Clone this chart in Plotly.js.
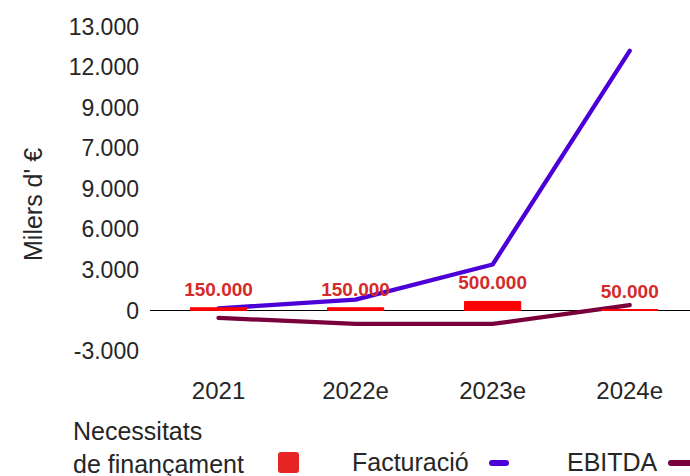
<!DOCTYPE html>
<html>
<head>
<meta charset="utf-8">
<script src="https://cdn.plot.ly/plotly-3.0.1.min.js"></script>
<style>
  html, body { margin: 0; padding: 0; background: #ffffff; }
  #chart { width: 690px; height: 476px; }
  .scatterlayer path.js-line { stroke-linecap: round; stroke-linejoin: round; }
</style>
</head>
<body>
<div id="chart"></div>
<script>
// Years on the horizontal axis
const years = ['2021', '2022e', '2023e', '2024e'];

// Financing needs, in euros
const financingNeeds = [150000, 150000, 500000, 50000];

// Revenue and EBITDA, in thousands of euros
const revenue = [150, 800, 3400, 19200];
const ebitda = [-550, -1000, -1000, 400];

// Vertical axis ticks
const yTickVals = [-3000, 0, 3000, 6000, 9000, 12000, 15000, 18000, 21000];
const yTickText = ['-3.000', '0', '3.000', '6.000', '9.000', '7.000', '9.000', '12.000', '13.000'];

// Series names and axis title
const seriesNames = ['Necessitats<br>de finançament', 'Facturació', 'EBITDA'];
const yTitle = "Milers d' €";

const colors = {
  bar: '#ff0000',
  barText: '#d42a2a',
  barKey: '#e62424',
  revenue: '#4b00d7',
  ebitda: '#7a003c',
  text: '#262626'
};

const FONT = '"Liberation Sans", Arial, Helvetica, sans-serif';

// Plot area in pixels
const M = { l: 150, r: 0, t: 13, b: 102 };
const W = 690 - M.l - M.r;
const H = 476 - M.t - M.b;
const Y1 = [-4700, 22000];
const Y2_FACTOR = 750;

// pixel -> paper helpers for the hand-built legend
const px = x => (x - M.l) / W;
const py = y => (M.t + H - y) / H;

function roundRect(x0, y0, x1, y1, r) {
  const p = (x, y) => px(x) + ',' + py(y);
  return 'M' + p(x0 + r, y0) + ' L' + p(x1 - r, y0) + ' Q' + p(x1, y0) + ' ' + p(x1, y0 + r) +
         ' L' + p(x1, y1 - r) + ' Q' + p(x1, y1) + ' ' + p(x1 - r, y1) +
         ' L' + p(x0 + r, y1) + ' Q' + p(x0, y1) + ' ' + p(x0, y1 - r) +
         ' L' + p(x0, y0 + r) + ' Q' + p(x0, y0) + ' ' + p(x0 + r, y0) + ' Z';
}

const traces = [
  {
    type: 'bar',
    name: 'Necessitats de finançament',
    x: years,
    y: financingNeeds,
    yaxis: 'y2',
    width: 0.41,
    marker: { color: colors.bar, line: { color: colors.bar, width: 1 } },
    hoverinfo: 'skip'
  },
  {
    // value labels above the financing bars
    type: 'scatter',
    mode: 'markers+text',
    name: 'Necessitats de finançament (valors)',
    x: years,
    y: financingNeeds,
    yaxis: 'y2',
    marker: { size: 10, opacity: 0 },
    texttemplate: '%{y:,.0f}',
    textposition: 'top center',
    cliponaxis: false,
    textfont: { family: FONT, size: 19, color: colors.barText, weight: 'bold' },
    hoverinfo: 'skip'
  },
  {
    type: 'scatter',
    mode: 'lines',
    name: 'Facturació',
    x: years,
    y: revenue,
    line: { color: colors.revenue, width: 4.3 },
    cliponaxis: false,
    hoverinfo: 'skip'
  },
  {
    type: 'scatter',
    mode: 'lines',
    name: 'EBITDA',
    x: years,
    y: ebitda,
    line: { color: colors.ebitda, width: 4.3 },
    cliponaxis: false,
    hoverinfo: 'skip'
  }
];

const legendFont = { family: FONT, size: 25, color: colors.text };

const layout = {
  width: 690,
  height: 476,
  margin: M,
  paper_bgcolor: '#ffffff',
  plot_bgcolor: '#ffffff',
  separators: ',.',
  showlegend: false,
  font: { family: FONT, color: colors.text },
  xaxis: {
    type: 'category',
    range: [-0.5, 3.44],
    showgrid: false,
    zeroline: false,
    showline: false,
    ticks: '',
    tickfont: { family: FONT, size: 24, color: colors.text },
    fixedrange: true
  },
  yaxis: {
    range: Y1,
    tickvals: yTickVals,
    ticktext: yTickText,
    showgrid: false,
    showline: false,
    zeroline: true,
    zerolinecolor: '#000000',
    zerolinewidth: 1.6,
    ticks: '',
    ticklabelstandoff: 10,
    tickfont: { family: FONT, size: 23, color: colors.text },
    fixedrange: true
  },
  yaxis2: {
    overlaying: 'y',
    range: [Y1[0] * Y2_FACTOR, Y1[1] * Y2_FACTOR],
    visible: false,
    fixedrange: true
  },
  shapes: [
    { type: 'path', xref: 'paper', yref: 'paper', path: roundRect(278, 452, 299, 473, 3),
      fillcolor: colors.barKey, line: { width: 0 } },
    { type: 'path', xref: 'paper', yref: 'paper', path: roundRect(489, 460, 509, 466, 3),
      fillcolor: colors.revenue, line: { width: 0 } },
    { type: 'path', xref: 'paper', yref: 'paper', path: roundRect(668, 460, 692, 466, 3),
      fillcolor: colors.ebitda, line: { width: 0 } }
  ],
  annotations: [
    { xref: 'paper', yref: 'paper', x: px(33), y: py(205), xanchor: 'center', yanchor: 'middle',
      textangle: -90, showarrow: false, text: yTitle,
      font: { family: FONT, size: 25, color: colors.text } },
    { xref: 'paper', yref: 'paper', x: px(71), y: py(447), xanchor: 'left', yanchor: 'middle',
      align: 'left', showarrow: false, text: seriesNames[0], font: legendFont },
    { xref: 'paper', yref: 'paper', x: px(350), y: py(462), xanchor: 'left', yanchor: 'middle',
      align: 'left', showarrow: false, text: seriesNames[1], font: legendFont },
    { xref: 'paper', yref: 'paper', x: px(565), y: py(462), xanchor: 'left', yanchor: 'middle',
      align: 'left', showarrow: false, text: seriesNames[2], font: legendFont }
  ]
};

Plotly.newPlot('chart', traces, layout, { displayModeBar: false, staticPlot: true });
</script>
</body>
</html>
